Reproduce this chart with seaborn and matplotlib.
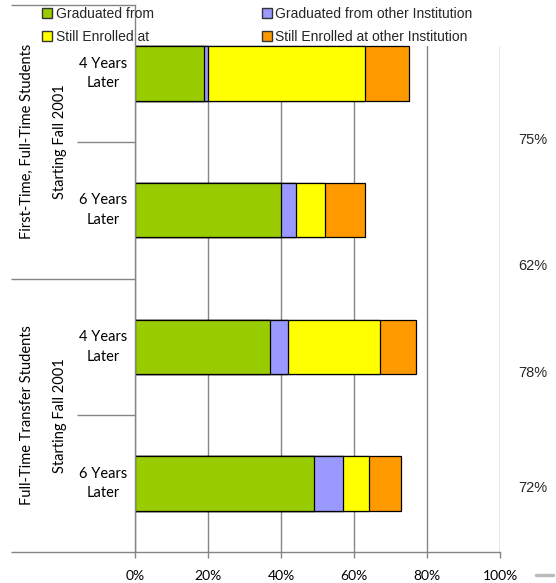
import matplotlib
matplotlib.use("Agg")
import matplotlib.pyplot as plt
import matplotlib.transforms as mtransforms
from matplotlib.patches import Patch
from matplotlib.lines import Line2D
from matplotlib.ticker import FuncFormatter
import numpy as np
import pandas as pd
import seaborn as sns

# ---- data -------------------------------------------------------------
cohorts = ["First-Time, Full-Time Students", "Full-Time Transfer Students"]
cohort_start = "Starting Fall 2001"
periods = ["4 Years\nLater", "6 Years\nLater", "4 Years\nLater", "6 Years\nLater"]
row_keys = ["ft_4", "ft_6", "tr_4", "tr_6"]

series_names = ["Graduated from", "Graduated from other Institution",
                "Still Enrolled at", "Still Enrolled at other Institution"]
graduated = [19, 40, 37, 49]
graduated_other = [1, 4, 5, 8]
enrolled = [43, 8, 25, 7]
enrolled_other = [12, 11, 10, 9]

total_labels = ["75%", "62%", "78%", "72%"]
x_ticks = [0, 20, 40, 60, 80, 100]
colors = ["#99CC00", "#9999FF", "#FFFF00", "#FF9900"]

# ---- figure -----------------------------------------------------------
W, H = 556, 583
sns.set_style("white")
plt.rcParams["font.family"] = ["Lato", "DejaVu Sans"]

fig = plt.figure(figsize=(W / 100, H / 100), dpi=100)
ax = fig.add_axes([135 / W, 1 - 552 / H, 365 / W, 547 / H])

df = pd.DataFrame({
    "row": row_keys,
    series_names[0]: graduated,
    series_names[1]: graduated_other,
    series_names[2]: enrolled,
    series_names[3]: enrolled_other,
})
cum = df[series_names].cumsum(axis=1)
df_cum = pd.concat([df[["row"]], cum], axis=1)

# stacked bars: draw cumulative totals from the outermost layer inwards
for k in range(len(series_names) - 1, -1, -1):
    sns.barplot(data=df_cum, x=series_names[k], y="row", order=row_keys,
                orient="h", color=colors[k], saturation=1, width=0.4,
                edgecolor="black", linewidth=0.9, errorbar=None, ax=ax)

ax.set_xlim(0, 100)
ax.set_ylim(3.5, -0.5)
ax.set_xticks(x_ticks)
ax.xaxis.set_major_formatter(FuncFormatter(lambda v, p: f"{v:.0f}%"))
ax.set_xlabel("")
ax.set_ylabel("")
ax.set_yticks([])

grid_c = "#858585"
ax.set_axisbelow(True)
ax.grid(axis="x", color=grid_c, lw=1.0)
ax.grid(axis="y", visible=False)
for s in ["top", "right"]:
    ax.spines[s].set_visible(False)
for s in ["left", "bottom"]:
    ax.spines[s].set_color(grid_c)
    ax.spines[s].set_linewidth(1.0)
ax.tick_params(axis="x", length=4, width=1, color=grid_c, pad=9,
               labelsize=10, labelcolor="black", bottom=True)

# blank strip under the legend
ax.axhspan(-0.5, -0.5 + 41 / 136.75, color="white", zorder=0.8, lw=0)

# ---- category axis ----------------------------------------------------
blend = mtransforms.blended_transform_factory(ax.transAxes, ax.transData)
cat_font = dict(family=["Lato", "DejaVu Sans"], size=10.5, color="black")
for i, lab in enumerate(periods):
    ax.text(-0.0877, i, lab, transform=blend, ha="center", va="center",
            linespacing=1.5, **cat_font)
for g, name in enumerate(cohorts):
    yc = 2 * g + 0.5
    ax.text(-0.296, yc, name, transform=blend, rotation=90,
            ha="center", va="center", **cat_font)
    ax.text(-0.2055, yc, cohort_start, transform=blend, rotation=90,
            ha="center", va="center", **cat_font)

sep_long = -0.3397
sep_short = -0.159
for y, x0 in [(-0.5, sep_long), (0.5, sep_short), (1.5, sep_long),
              (2.5, sep_short), (3.5, sep_long)]:
    ax.plot([x0, 0], [y, y], transform=blend, color=grid_c, lw=1.0,
            clip_on=False, solid_capstyle="butt")

# ---- totals on the right ---------------------------------------------
label_y = [140, 266, 373, 488]
for lab, yp in zip(total_labels, label_y):
    fig.text(533 / W, 1 - yp / H, lab, ha="center", va="center",
             family=["Liberation Sans", "DejaVu Sans"], size=10.5)

fig.add_artist(Line2D([536 / W, 553 / W], [1 - 575 / H, 1 - 575 / H],
                      color="#BBBBBB", lw=2.5))

# ---- legend -----------------------------------------------------------
order = [0, 2, 1, 3]
handles = [Patch(facecolor=colors[k], edgecolor="#333333", lw=1.0) for k in order]
labels = [series_names[k] for k in order]
fig.legend(handles, labels, ncol=2, loc="upper left",
           bbox_to_anchor=(42 / W, 1 - 7 / H), frameon=False,
           prop=dict(family=["Liberation Sans", "DejaVu Sans"], size=10),
           handlelength=0.75, handleheight=0.75, handletextpad=0.25,
           columnspacing=7.75, labelspacing=0.62, borderpad=0,
           borderaxespad=0)

fig.savefig("out.png", dpi=100)
